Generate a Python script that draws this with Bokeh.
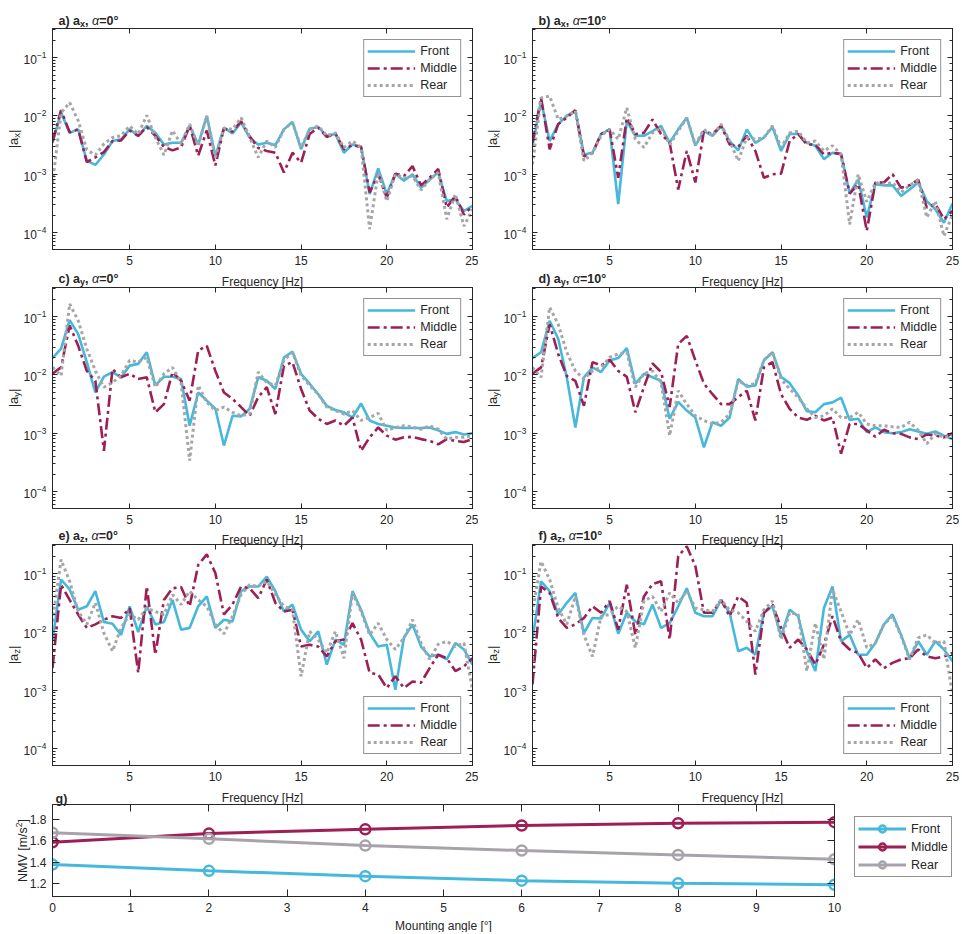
import math
from bokeh.plotting import figure
from bokeh.models import Range1d, LinearAxis, LogAxis, Label, FixedTicker, GridBox, Legend, LegendItem
from bokeh.layouts import column, row
from bokeh.embed import file_html
from bokeh.resources import INLINE

# ---------------- data (magnitudes given as log10 values) ----
FREQ = [0.5, 1.0, 1.5, 2.0, 2.5, 3.0, 3.5, 4.0, 4.5, 5.0,
        5.5, 6.0, 6.5, 7.0, 7.5, 8.0, 8.5, 9.0, 9.5, 10.0,
        10.5, 11.0, 11.5, 12.0, 12.5, 13.0, 13.5, 14.0, 14.5, 15.0,
        15.5, 16.0, 16.5, 17.0, 17.5, 18.0, 18.5, 19.0, 19.5, 20.0,
        20.5, 21.0, 21.5, 22.0, 22.5, 23.0, 23.5, 24.0, 24.5, 25.0]

AX0_FRONT = [-2.46, -1.94, -2.29, -2.23, -2.77, -2.84, -2.66, -2.43, -2.40, -2.23,
             -2.34, -2.17, -2.29, -2.49, -2.46, -2.46, -2.17, -2.49, -2.00, -2.69,
             -2.20, -2.30, -2.11, -2.37, -2.49, -2.46, -2.50, -2.23, -2.10, -2.57,
             -2.22, -2.19, -2.34, -2.31, -2.63, -2.49, -2.53, -3.34, -2.90, -3.34,
             -2.99, -3.11, -3.00, -3.23, -3.09, -2.97, -3.46, -3.43, -3.63, -3.54]
AX0_MIDDLE = [-2.44, -1.90, -2.28, -2.23, -2.79, -2.71, -2.62, -2.43, -2.42, -2.25,
              -2.34, -2.19, -2.34, -2.53, -2.59, -2.54, -2.17, -2.68, -2.25, -2.85,
              -2.21, -2.27, -2.09, -2.35, -2.55, -2.60, -2.63, -2.97, -2.63, -2.80,
              -2.31, -2.20, -2.36, -2.30, -2.57, -2.50, -2.53, -3.31, -3.00, -3.40,
              -2.99, -3.03, -2.86, -3.19, -3.06, -2.91, -3.57, -3.37, -3.69, -3.54]
AX0_REAR = [-3.15, -1.95, -1.77, -2.08, -2.58, -2.67, -2.48, -2.37, -2.34, -2.17,
            -2.31, -1.99, -2.37, -2.67, -2.25, -2.48, -2.14, -2.51, -2.00, -2.71,
            -2.21, -2.23, -2.03, -2.37, -2.71, -2.43, -2.54, -2.23, -2.11, -2.54,
            -2.23, -2.17, -2.34, -2.29, -2.54, -2.43, -2.54, -3.94, -2.97, -3.46,
            -3.00, -3.06, -3.03, -3.27, -3.09, -2.97, -3.77, -3.34, -3.89, -3.60]

AX10_FRONT = [-2.51, -1.74, -2.43, -2.14, -2.00, -1.91, -2.66, -2.63, -2.31, -2.23,
              -3.51, -2.09, -2.34, -2.34, -2.26, -2.17, -2.46, -2.23, -2.03, -2.51,
              -2.26, -2.34, -2.17, -2.43, -2.59, -2.23, -2.46, -2.37, -2.19, -2.60,
              -2.31, -2.31, -2.46, -2.51, -2.74, -2.63, -2.66, -3.33, -3.09, -3.74,
              -3.17, -3.19, -3.19, -3.37, -3.26, -3.14, -3.46, -3.60, -3.83, -3.50]
AX10_MIDDLE = [-2.46, -1.69, -2.57, -2.14, -2.03, -1.90, -2.69, -2.64, -2.31, -2.23,
               -3.06, -2.03, -2.31, -2.29, -2.06, -2.31, -2.46, -3.26, -2.60, -3.14,
               -2.26, -2.31, -2.17, -2.49, -2.53, -2.34, -2.60, -3.06, -3.00, -2.99,
               -2.43, -2.31, -2.49, -2.49, -2.66, -2.63, -2.65, -3.33, -3.17, -3.97,
               -3.14, -3.14, -3.00, -3.23, -3.19, -3.09, -3.57, -3.51, -3.77, -3.63]
AX10_REAR = [-2.83, -1.69, -1.66, -2.06, -2.00, -1.91, -2.77, -2.63, -2.34, -2.23,
             -2.40, -1.86, -2.40, -2.54, -2.29, -2.20, -2.49, -2.26, -2.03, -2.49,
             -2.23, -2.34, -2.14, -2.43, -2.77, -2.37, -2.40, -2.37, -2.17, -2.54,
             -2.29, -2.26, -2.46, -2.43, -2.60, -2.51, -2.66, -3.86, -3.00, -3.47,
             -3.14, -3.17, -3.14, -3.31, -3.19, -3.10, -3.74, -3.46, -4.06, -3.69]

AY0_FRONT = [-1.71, -1.55, -1.06, -1.30, -1.78, -2.30, -2.03, -1.95, -2.04, -1.84,
             -1.81, -1.61, -2.18, -2.03, -2.03, -2.07, -2.87, -2.30, -2.44, -2.58,
             -3.21, -2.70, -2.71, -2.58, -2.04, -2.10, -2.24, -1.70, -1.60, -1.98,
             -2.15, -2.33, -2.53, -2.60, -2.64, -2.73, -2.49, -2.78, -2.84, -2.87,
             -2.90, -2.91, -2.91, -2.91, -2.90, -2.95, -3.01, -2.98, -3.02, -3.00]
AY0_MIDDLE = [-1.98, -1.87, -1.15, -1.50, -1.93, -2.10, -3.30, -1.90, -2.04, -1.98,
              -2.07, -2.04, -2.64, -2.50, -1.95, -2.10, -2.44, -1.58, -1.50, -1.93,
              -2.30, -2.41, -2.55, -2.70, -2.38, -2.21, -2.67, -1.84, -1.78, -2.24,
              -2.61, -2.75, -2.84, -2.78, -2.87, -2.73, -3.30, -3.07, -2.90, -3.04,
              -3.11, -3.07, -3.06, -3.10, -3.13, -3.19, -3.10, -3.13, -3.15, -3.10]
AY0_REAR = [-1.87, -2.01, -0.78, -1.07, -1.55, -1.93, -2.21, -2.13, -2.01, -1.75,
            -1.78, -1.70, -2.21, -1.98, -1.87, -2.13, -3.47, -2.18, -2.47, -2.61,
            -2.55, -2.64, -2.70, -2.67, -1.95, -2.13, -2.18, -1.75, -1.61, -2.01,
            -2.18, -2.33, -2.55, -2.61, -2.67, -2.61, -2.78, -2.73, -2.66, -2.95,
            -2.90, -2.87, -2.89, -2.93, -2.87, -2.93, -3.10, -3.07, -3.07, -3.04]

AY10_FRONT = [-1.71, -1.61, -1.07, -1.38, -2.04, -2.90, -2.04, -1.87, -1.95, -1.75,
              -1.71, -1.54, -2.15, -1.98, -2.04, -2.10, -2.75, -2.46, -2.61, -2.73,
              -3.24, -2.81, -2.87, -2.73, -2.07, -2.20, -2.18, -1.75, -1.61, -2.03,
              -2.14, -2.35, -2.62, -2.64, -2.50, -2.47, -2.39, -2.77, -2.75, -2.98,
              -2.90, -2.98, -3.00, -2.98, -2.93, -2.97, -3.01, -2.97, -3.04, -3.10]
AY10_MIDDLE = [-1.98, -1.87, -1.13, -1.64, -2.02, -2.10, -2.53, -1.78, -1.84, -1.74,
               -1.93, -2.03, -2.64, -2.21, -1.80, -1.95, -2.55, -1.47, -1.33, -1.75,
               -2.15, -2.33, -2.50, -2.50, -2.38, -2.27, -2.78, -1.87, -1.78, -2.33,
               -2.58, -2.73, -2.77, -2.70, -2.78, -2.73, -3.35, -2.84, -2.84, -2.95,
               -3.06, -2.94, -3.00, -3.01, -3.07, -3.10, -3.02, -3.04, -3.07, -3.00]
AY10_REAR = [-1.87, -2.04, -0.84, -1.13, -1.61, -1.93, -2.07, -1.93, -1.87, -1.70,
             -1.64, -1.61, -2.21, -1.98, -1.93, -2.13, -3.04, -2.27, -2.50, -2.70,
             -2.78, -2.84, -2.81, -2.67, -2.10, -2.18, -2.15, -1.74, -1.61, -2.07,
             -2.24, -2.38, -2.58, -2.73, -2.70, -2.58, -2.73, -2.73, -2.64, -2.84,
             -2.87, -2.87, -2.89, -2.90, -2.81, -2.95, -3.18, -3.01, -3.07, -3.04]

AZ0_FRONT = [-2.16, -1.10, -1.27, -1.62, -1.56, -1.30, -1.83, -1.86, -2.05, -1.56,
             -2.00, -1.56, -1.87, -1.83, -1.45, -1.96, -1.93, -1.56, -1.39, -1.93,
             -1.79, -1.82, -1.30, -1.22, -1.22, -1.05, -1.30, -1.65, -1.53, -1.96,
             -2.16, -1.99, -2.56, -2.13, -2.22, -1.30, -1.62, -2.02, -2.25, -2.22,
             -2.99, -2.10, -1.87, -2.25, -2.42, -2.39, -2.47, -2.19, -2.30, -2.56]
AZ0_MIDDLE = [-2.62, -1.19, -1.45, -1.70, -1.93, -1.87, -1.79, -1.73, -1.76, -1.59,
              -2.70, -1.22, -2.39, -1.45, -1.25, -1.23, -1.56, -0.85, -0.67, -0.99,
              -1.70, -1.53, -1.22, -1.25, -1.42, -1.10, -1.50, -1.65, -1.62, -2.25,
              -2.22, -2.25, -2.42, -2.16, -2.13, -1.85, -2.13, -2.70, -2.73, -2.96,
              -2.76, -2.96, -2.85, -2.87, -2.62, -2.39, -2.45, -2.67, -2.59, -2.45]
AZ0_REAR = [-1.82, -0.76, -1.13, -1.65, -1.87, -1.50, -2.02, -2.33, -1.93, -1.70,
            -1.79, -1.59, -1.65, -1.70, -1.36, -1.53, -1.30, -1.45, -1.56, -1.87,
            -2.03, -1.73, -1.36, -1.19, -1.22, -1.13, -1.36, -1.56, -1.62, -2.76,
            -1.99, -2.13, -2.36, -1.99, -2.45, -1.33, -1.65, -2.05, -1.85, -2.13,
            -2.30, -2.10, -1.79, -2.19, -2.47, -2.21, -2.16, -2.25, -2.19, -2.99]

AZ10_FRONT = [-2.13, -1.13, -1.30, -1.70, -1.50, -1.33, -2.02, -1.76, -1.77, -1.50,
              -2.03, -1.67, -1.82, -1.87, -1.53, -1.93, -1.85, -1.56, -1.25, -1.67,
              -1.73, -1.73, -1.45, -1.67, -2.33, -2.27, -2.39, -1.67, -1.56, -2.07,
              -1.62, -1.73, -2.33, -2.67, -1.59, -1.22, -2.16, -2.05, -2.39, -2.39,
              -2.19, -1.87, -1.70, -2.05, -2.45, -2.16, -2.39, -2.16, -2.30, -2.50]
AZ10_MIDDLE = [-2.90, -1.22, -1.33, -1.76, -1.93, -1.87, -1.76, -1.56, -1.67, -1.47,
               -1.96, -1.19, -2.05, -1.39, -1.18, -1.13, -2.13, -0.70, -0.53, -0.87,
               -1.67, -1.67, -1.45, -1.73, -1.39, -1.50, -2.73, -1.67, -1.53, -1.93,
               -2.27, -2.13, -2.30, -2.56, -2.22, -1.73, -2.16, -2.30, -2.36, -2.62,
               -2.47, -2.62, -2.53, -2.47, -2.45, -2.30, -2.42, -2.45, -2.42, -2.36]
AZ10_REAR = [-1.67, -0.79, -1.10, -1.59, -1.87, -1.39, -2.05, -2.42, -1.73, -1.70,
             -1.56, -1.65, -2.27, -1.47, -1.39, -1.65, -1.33, -1.50, -1.30, -1.59,
             -1.62, -1.65, -1.45, -1.62, -1.67, -1.82, -1.99, -1.62, -1.47, -2.13,
             -1.67, -1.70, -2.67, -1.85, -2.47, -1.27, -1.65, -2.05, -1.79, -2.27,
             -2.19, -1.87, -1.73, -2.07, -2.47, -2.10, -2.05, -2.19, -2.16, -3.07]

ANGLES = [0, 2, 4, 6, 8, 10]
NMV_FRONT = [1.378, 1.32, 1.27, 1.228, 1.203, 1.19]
NMV_MIDDLE = [1.587, 1.668, 1.708, 1.744, 1.765, 1.775]
NMV_REAR = [1.675, 1.619, 1.556, 1.51, 1.469, 1.428]

X_TICKS = [5, 10, 15, 20, 25]
G_X_TICKS = [0, 1, 2, 3, 4, 5, 6, 7, 8, 9, 10]
G_Y_TICKS = [1.2, 1.4, 1.6, 1.8]
SERIES_NAMES = ["Front", "Middle", "Rear"]

# ---------------- styling ----------------
FONT = "Liberation Sans"
AXC = "#262626"
C_FRONT = "#45B8DC"
C_MIDDLE = "#9C1F55"
C_REAR = "#A6A6A6"
C_REAR_G = "#A8A3AB"
YMIN, YMAX = 10 ** -4.29, 10 ** -0.5
FW, FH = 420, 221
PAGE_W, PAGE_H = 960, 932

W_REG = {' ': 278, '|': 260, 'a': 556, 'x': 500, 'y': 500, 'z': 500, 'N': 722, 'M': 833,
         'V': 667, '[': 278, ']': 278, 'm': 833, '/': 278, 's': 500, '2': 556}
W_BOLD = {'a': 556, 'b': 611, 'c': 556, 'd': 611, 'e': 556, 'f': 333, 'g': 611, ')': 333,
          ' ': 278, ',': 278, '=': 584, '0': 556, '1': 556, '°': 400, 'x': 556, 'y': 556,
          'z': 500}


def tw(s, size, style):
    tbl = W_BOLD if style == "bold" else W_REG
    w = 0
    for ch in s:
        w += 580 if ch == "α" else tbl.get(ch, 556)
    return w * size / 1000.0


def style_axis(ax, labels=True, tick=5, minor=True):
    ax.axis_line_color = AXC
    ax.major_tick_line_color = AXC
    ax.major_tick_in = tick
    ax.major_tick_out = 0
    if minor:
        ax.minor_tick_line_color = AXC
        ax.minor_tick_in = 3
        ax.minor_tick_out = 0
    else:
        ax.minor_tick_line_color = None
    ax.major_label_text_font = FONT
    if labels:
        ax.major_label_text_color = AXC
        ax.major_label_text_font_size = "12px"
        ax.major_label_standoff = 6
    else:
        ax.major_label_text_color = None
        ax.major_label_text_font_size = "1px"
        ax.major_label_standoff = 0


def style_legend(lg, loc, gh=16):
    lg.location = loc
    lg.margin = 11
    lg.padding = 3
    lg.spacing = 1
    lg.glyph_width = 48
    lg.glyph_height = gh
    lg.label_height = gh
    lg.label_standoff = 5
    lg.label_text_font = FONT
    lg.label_text_font_size = "12.5px"
    lg.label_text_color = AXC
    lg.border_line_color = AXC
    lg.border_line_width = 1
    lg.background_fill_color = "white"
    lg.background_fill_alpha = 1.0


def log_panel(front, middle, rear, borders, legend_loc):
    l, r, t, b = borders
    p = figure(frame_width=FW, frame_height=FH, x_range=Range1d(0.5, 25),
               y_range=Range1d(YMIN, YMAX), y_axis_type="log",
               output_backend="svg", toolbar_location=None,
               min_border_left=l, min_border_right=r, min_border_top=t, min_border_bottom=b)
    p.grid.visible = False
    p.outline_line_color = AXC
    p.background_fill_color = "white"
    p.border_fill_color = "white"
    p.xaxis.ticker = FixedTicker(ticks=X_TICKS)
    style_axis(p.xaxis[0], minor=False)
    style_axis(p.yaxis[0])
    top = LinearAxis(ticker=FixedTicker(ticks=X_TICKS))
    style_axis(top, labels=False, minor=False)
    p.add_layout(top, "above")
    right = LogAxis()
    style_axis(right, labels=False)
    p.add_layout(right, "right")

    p.line(FREQ, [10 ** v for v in front], line_color=C_FRONT, line_width=2.6,
           legend_label=SERIES_NAMES[0])
    p.line(FREQ, [10 ** v for v in middle], line_color=C_MIDDLE, line_width=2.6,
           line_dash="12 4 3 4", legend_label=SERIES_NAMES[1])
    p.line(FREQ, [10 ** v for v in rear], line_color=C_REAR, line_width=3,
           line_dash="3 3", legend_label=SERIES_NAMES[2])
    style_legend(p.legend[0], legend_loc)
    return p


pa = log_panel(AX0_FRONT, AX0_MIDDLE, AX0_REAR, (52, 6, 28, 20), "top_right")
pb = log_panel(AX10_FRONT, AX10_MIDDLE, AX10_REAR, (54, 8, 28, 20), "top_right")
pc = log_panel(AY0_FRONT, AY0_MIDDLE, AY0_REAR, (52, 6, 18, 20), "top_right")
pd = log_panel(AY10_FRONT, AY10_MIDDLE, AY10_REAR, (54, 8, 18, 20), "top_right")
pe = log_panel(AZ0_FRONT, AZ0_MIDDLE, AZ0_REAR, (52, 6, 16, 20), "bottom_right")
pf = log_panel(AZ10_FRONT, AZ10_MIDDLE, AZ10_REAR, (54, 8, 16, 20), "bottom_right")

# ---------------- panel g ----------------
GW, GH = 782, 92
GY0, GY1 = 1.08, 1.94
pg = figure(frame_width=GW, frame_height=GH, x_range=Range1d(0, 10), y_range=Range1d(GY0, GY1),
            output_backend="svg", toolbar_location=None,
            min_border_left=52, min_border_right=126, min_border_top=19, min_border_bottom=36)
pg.grid.visible = False
pg.outline_line_color = AXC
pg.xaxis.ticker = FixedTicker(ticks=G_X_TICKS)
pg.yaxis.ticker = FixedTicker(ticks=G_Y_TICKS)
style_axis(pg.xaxis[0], tick=7, minor=False)
style_axis(pg.yaxis[0], tick=7, minor=False)
gt = LinearAxis(ticker=FixedTicker(ticks=G_X_TICKS))
style_axis(gt, labels=False, tick=7, minor=False)
pg.add_layout(gt, "above")
gr = LinearAxis(ticker=FixedTicker(ticks=G_Y_TICKS))
style_axis(gr, labels=False, tick=7, minor=False)
pg.add_layout(gr, "right")

G_SERIES = ((NMV_FRONT, C_FRONT, "Front"), (NMV_MIDDLE, C_MIDDLE, "Middle"),
            (NMV_REAR, C_REAR_G, "Rear"))
for vals, col, name in G_SERIES:
    pg.line(ANGLES, vals, line_color=col, line_width=3)
    pg.scatter(ANGLES, vals, marker="circle", size=10, fill_color=None, line_color=col,
               line_width=2.5)

main = column(row(pa, pb), row(pc, pd), row(pe, pf), pg)

# ---------------- transparent text overlay (page pixel coordinates) ----------------
ov = figure(frame_width=PAGE_W, frame_height=PAGE_H, x_range=Range1d(0, PAGE_W),
            y_range=Range1d(PAGE_H, 0), output_backend="svg", toolbar_location=None,
            x_axis_location=None, y_axis_location=None, min_border=0,
            styles={"z-index": "10"})
ov.grid.visible = False
ov.outline_line_color = None
ov.background_fill_color = None
ov.border_fill_color = None


def lab(x, y, text, size, style="normal", angle=0.0, align="left"):
    ov.add_layout(Label(x=x, y=y, text=text, angle=angle, text_font=FONT,
                        text_font_size=f"{size}px", text_font_style=style,
                        text_color=AXC, text_align=align, text_baseline="alphabetic"))


def rich(parts, x, y, angle=0.0, center=False):
    total = sum(tw(t, s, st) for t, s, st, sh in parts)
    pos = -total / 2 if center else 0.0
    for t, s, st, sh in parts:
        if angle == 0:
            lab(x + pos, y - sh, t, s, st)
        else:
            lab(x - sh, y - pos, t, s, st, angle=angle)
        pos += tw(t, s, st)


PANELS = [("a", "x", "0", 58, 20, 138.5), ("b", "x", "10", 538, 20, 138.5),
          ("c", "y", "0", 58, 278, 397.5), ("d", "y", "10", 538, 278, 397.5),
          ("e", "z", "0", 58, 535, 654.5), ("f", "z", "10", 538, 535, 654.5)]
for letter, comp, ang, tx, ty, yc in PANELS:
    rich([(f"{letter}) a", 12.5, "bold", 0), (comp, 9, "bold", -3.5), (", ", 12.5, "bold", 0),
          ("α", 12.5, "italic", 0), (f"={ang}°", 12.5, "bold", 0)], tx, ty)
    ylx = 12.5 if tx < 300 else 492
    rich([("|a", 13, "normal", 0), (comp, 9.5, "normal", -3), ("|", 13, "normal", 0)],
         ylx, yc, angle=math.pi / 2, center=True)

for fx in (262, 742):
    for fy in (281, 539, 797):
        lab(fx, fy, "Frequency [Hz]", 12, align="center")

rich([("g)", 12.5, "bold", 0)], 55, 798)
rich([("NMV [m/s", 12.5, "normal", 0), ("2", 8.5, "normal", 4.5), ("]", 12.5, "normal", 0)],
     22.5, 850, angle=math.pi / 2, center=True)
lab(443, 925, "Mounting angle [°]", 12, align="center")

# legend of panel g (outside its frame): hidden proxy renderers of the same series
items = []
for vals, col, name in G_SERIES:
    r1 = ov.line(ANGLES, vals, line_color=col, line_width=3, visible=False)
    r2 = ov.scatter(ANGLES, vals, marker="circle", size=10, fill_color=None, line_color=col,
                    line_width=2.5, visible=False)
    items.append(LegendItem(label=name, renderers=[r1, r2]))
g_leg = Legend(items=items)
style_legend(g_leg, (854, PAGE_H - 877), gh=17)
g_leg.margin = 0
g_leg.inactive_fill_alpha = 0.0
ov.add_layout(g_leg)

page = GridBox(children=[(main, 0, 0), (ov, 0, 0)])
open("out.html", "w").write(file_html(page, INLINE))
